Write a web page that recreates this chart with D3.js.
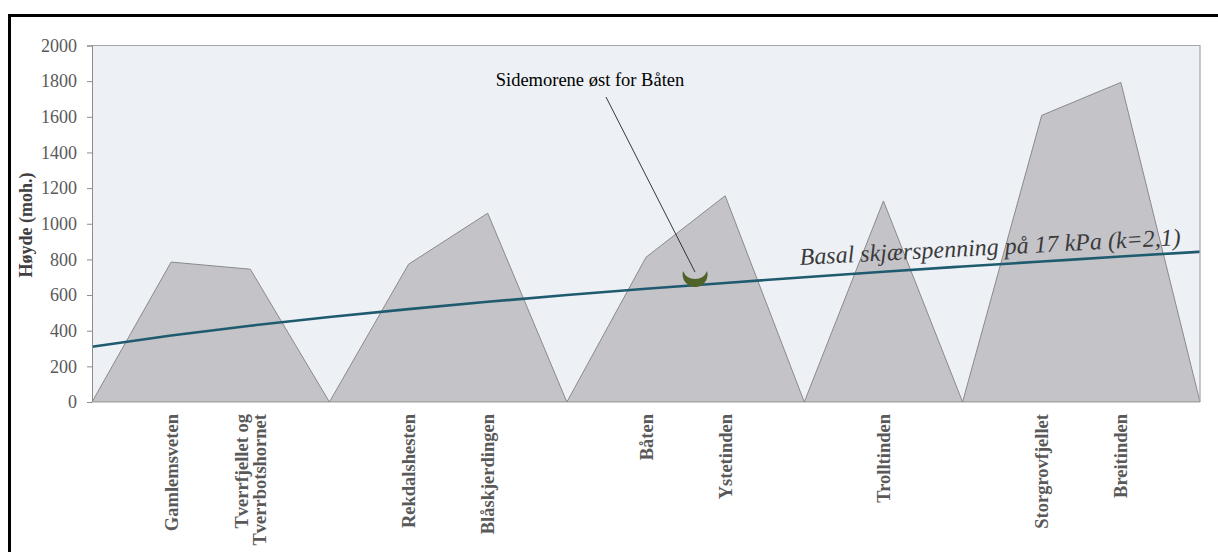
<!DOCTYPE html>
<html>
<head>
<meta charset="utf-8">
<script src="https://cdn.jsdelivr.net/npm/d3@7"></script>
<style>
html,body{margin:0;padding:0;background:#fff;}
svg{display:block;}
svg text{font-family:"Liberation Serif","Times New Roman",serif;}
</style>
</head>
<body>
<svg id="chart" width="1218" height="552"></svg>
<script>
// ---- data ----
const categories = ["", "Gamlemsveten", "Tverrfjellet og\nTverrbotshornet", "", "Rekdalshesten", "Blåskjerdingen", "", "Båten", "Ystetinden", "", "Trolltinden", "", "Storgrovfjellet", "Breitinden", ""];
const heights = [0, 785, 745, 0, 773, 1059, 0, 812, 1157, 0, 1128, 0, 1608, 1793, 0];
const shearLine = [310, 373, 428, 477, 521, 562, 600, 635, 668, 700, 731, 760, 788, 816, 843];
const yTicks = [0, 200, 400, 600, 800, 1000, 1200, 1400, 1600, 1800, 2000];
const moraine = {pos: 7.62, value: 695, label: "Sidemorene øst for Båten"};
const lineLabel = "Basal skjærspenning på 17 kPa (k=2,1)";
const yTitle = "Høyde (moh.)";

// ---- layout ----
const svg = d3.select("#chart");
const L = 92, T = 45.5, R = 1200, B = 402;
const x = d3.scaleLinear().domain([0, categories.length - 1]).range([L, R]);
const y = d3.scaleLinear().domain([0, 2000]).range([B, T]);
const serif = "Liberation Serif";

// outer frame
svg.append("rect").attr("x", 9.5).attr("y", 15.5).attr("width", 1300).attr("height", 700)
  .attr("fill", "none").attr("stroke", "#000").attr("stroke-width", 3);

// plot background
svg.append("rect").attr("x", L).attr("y", T).attr("width", R - L).attr("height", B - T)
  .attr("fill", "#edf0f5");

// area
const area = d3.area().x((d, i) => x(i)).y0(y(0)).y1(d => y(d));
svg.append("path").datum(heights).attr("d", area)
  .attr("fill", "#c4c3c8").attr("stroke", "#8a8a8a").attr("stroke-width", 1);

// shear stress line
const line = d3.line().x((d, i) => x(i)).y(d => y(d)).curve(d3.curveMonotoneX);
svg.append("path").datum(shearLine).attr("d", line)
  .attr("fill", "none").attr("stroke", "#1f5b6f").attr("stroke-width", 2.6);

// plot border (top & right)
svg.append("path").attr("d", `M${L},${T}H${R}V${B}`).attr("fill", "none")
  .attr("stroke", "#a6a6a6").attr("stroke-width", 1.2);

// y axis
const yAxis = d3.axisLeft(y).tickValues(yTicks).tickSize(5).tickPadding(10).tickFormat(d3.format("d"));
const gy = svg.append("g").attr("transform", `translate(${L},0)`).call(yAxis)
  .attr("font-family", null);
gy.select(".domain").attr("stroke", "#8c8c8c");
gy.selectAll(".tick line").attr("stroke", "#8c8c8c");
gy.selectAll(".tick text").style("font-family", serif).attr("font-size", 18).attr("fill", "#595959");

// x axis line
svg.append("line").attr("x1", L).attr("x2", R).attr("y1", B + 0.5).attr("y2", B + 0.5)
  .attr("stroke", "#d0d0d0").attr("stroke-width", 1.2);

// category labels
categories.forEach((c, i) => {
  if (!c) return;
  const lines = c.split("\n");
  const lh = 18;
  const g = svg.append("g").attr("transform", `translate(${x(i)},${B + 12}) rotate(-90)`);
  lines.forEach((t, j) => {
    g.append("text").attr("x", 0)
      .attr("y", (j - (lines.length - 1) / 2) * lh + 6.5)
      .attr("text-anchor", "end").style("font-family", serif).attr("font-weight", "bold")
      .attr("font-size", 18.5).attr("fill", "#595959").text(t);
  });
});

// y title
svg.append("text").attr("transform", `translate(32,225) rotate(-90)`)
  .attr("text-anchor", "middle").style("font-family", serif).attr("font-weight", "bold")
  .attr("font-size", 18).attr("fill", "#404040").text(yTitle);

// moraine marker (crescent)
const mx = x(moraine.pos), my = y(moraine.value);
svg.append("path").attr("transform", `translate(${mx},${my})`)
  .attr("d", "M-12,-7 A12.5,12.5 0 1 0 12,-7 A13,13 0 0 1 -12,-7 Z").attr("fill", "#4f6228");

// annotation
const ax = 590, ay = 86;
svg.append("text").attr("x", ax).attr("y", ay).attr("text-anchor", "middle")
  .style("font-family", serif).attr("font-size", 18.5).attr("fill", "#000").text(moraine.label);
svg.append("line").attr("x1", 606).attr("y1", 97).attr("x2", mx).attr("y2", my - 6)
  .attr("stroke", "#222").attr("stroke-width", 0.9);

// line label
svg.append("text").attr("transform", `translate(800,265) rotate(-3)`)
  .style("font-family", serif).attr("font-style", "italic").attr("font-size", 24)
  .attr("fill", "#3a3a3a").text(lineLabel);
</script>
</body>
</html>
